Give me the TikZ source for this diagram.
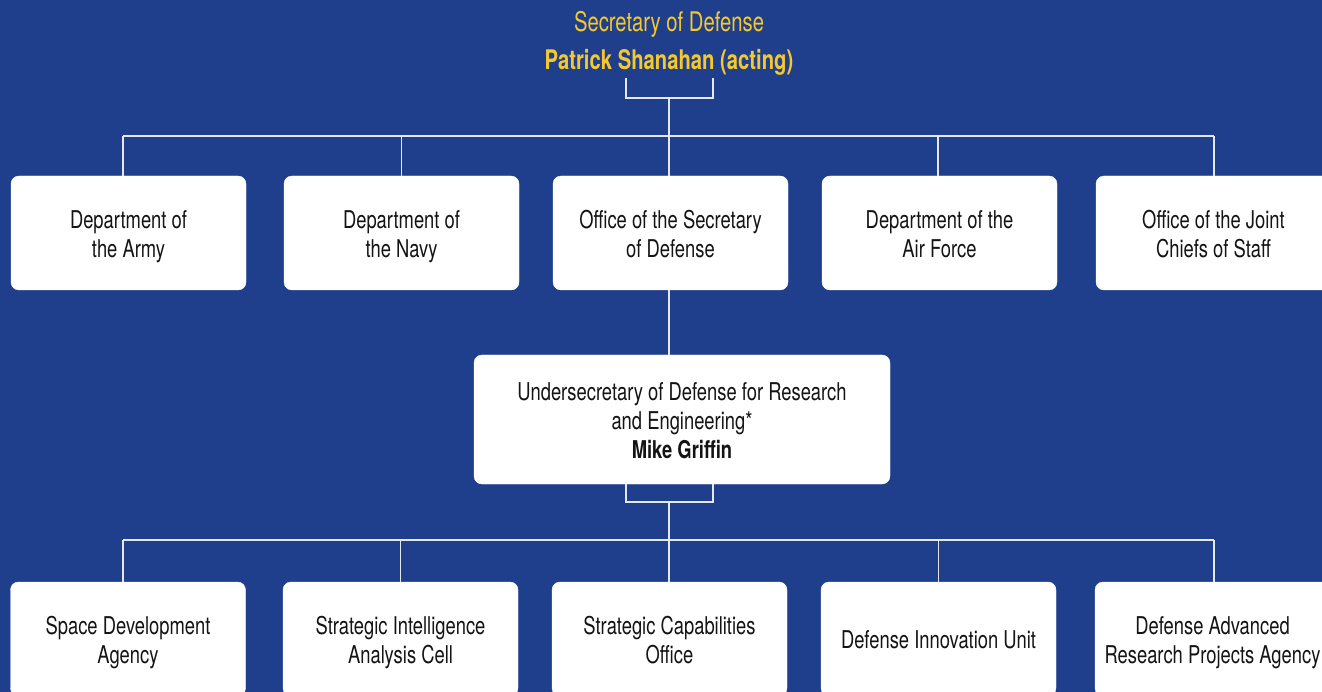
\documentclass[tikz,border=0pt]{standalone}
\usepackage{fontspec}
\setmainfont[FakeStretch=0.75]{TeX Gyre Heros}
\definecolor{bgblue}{RGB}{31,63,140}
\definecolor{gold}{RGB}{245,200,46}
\definecolor{linec}{RGB}{228,232,242}
\definecolor{txt}{RGB}{20,20,20}
\newcommand\mytopstrut{\rule{0pt}{28.3pt}}
\newcommand\mybotstrut{\rule[-8.7pt]{0pt}{8.7pt}}
\begin{document}
\begin{tikzpicture}[x=1pt,y=-1pt,
  orgbox/.style={draw=white,fill=white,rounded corners=8pt,minimum width=235pt,minimum height=114pt,
    align=center,text=txt,font=\fontsize{24.5}{29}\selectfont,inner sep=0pt},
  bigbox/.style={orgbox,minimum width=416pt,minimum height=129pt},
  conn/.style={draw=linec,line width=1.5pt},
  title/.style={text=gold,inner sep=0pt,font=\fontsize{27}{32}\selectfont}]
\useasboundingbox (0,0) rectangle (1322,692);
\clip (0,0) rectangle (1322,692);
\fill[bgblue] (0,0) rectangle (1322,692);
% title
\node[title] (sec) at (669,24) {Secretary of Defense};
\node[title,font=\fontsize{27}{32}\selectfont\bfseries] (name) at (669,62) {Patrick Shanahan (acting)};
\coordinate (bl1) at (626,78);
\coordinate (br1) at (713,78);
\coordinate (bm1) at (669,98);
\coordinate (bus1) at (669,136);
% top row
\node[orgbox] (army) at (128.5,233) {\mytopstrut Department of\\the Army\mybotstrut};
\node[orgbox] (navy) at (401.5,233) {\mytopstrut Department of\\the Navy\mybotstrut};
\node[orgbox] (osd) at (670.5,233) {\mytopstrut Office of the Secretary\\of Defense\mybotstrut};
\node[orgbox] (af) at (939.5,233) {\mytopstrut Department of the\\Air Force\mybotstrut};
\node[orgbox] (jcs) at (1213.5,233) {\mytopstrut Office of the Joint\\Chiefs of Staff\mybotstrut};
% middle
\node[bigbox] (usd) at (682,419.5) {\mytopstrut Undersecretary of Defense for Research\\and Engineering*\\\textbf{Mike Griffin}\mybotstrut};
\coordinate (bl2) at (626,484);
\coordinate (br2) at (713,484);
\coordinate (bm2) at (669,502);
\coordinate (bus2) at (669,540);
% bottom row
\node[orgbox] (sda) at (128,639) {\mytopstrut Space Development\\Agency\mybotstrut};
\node[orgbox] (siac) at (400.5,639) {\mytopstrut Strategic Intelligence\\Analysis Cell\mybotstrut};
\node[orgbox] (sco) at (669.5,639) {\mytopstrut Strategic Capabilities\\Office\mybotstrut};
\node[orgbox] (diu) at (938.5,639) {\mytopstrut Defense Innovation Unit\mybotstrut};
\node[orgbox] (darpa) at (1212.5,639) {\mytopstrut Defense Advanced\\Research Projects Agency\mybotstrut};
% connectors top
\draw[conn] (bl1) |- (bm1) -| (br1);
\draw[conn] (bm1) -- (bus1);
\draw[conn] ([xshift=-5.5pt]army.north |- bus1) -- ([xshift=0.5pt]jcs.north |- bus1);
\draw[conn] ([xshift=-5.5pt]army.north) -- ([xshift=-5.5pt]army.north |- bus1);
\draw[conn] (navy.north) -- (navy.north |- bus1);
\draw[conn] ([xshift=-1.5pt]osd.north) -- ([xshift=-1.5pt]osd.north |- bus1);
\draw[conn] ([xshift=-1.5pt]af.north) -- ([xshift=-1.5pt]af.north |- bus1);
\draw[conn] ([xshift=0.5pt]jcs.north) -- ([xshift=0.5pt]jcs.north |- bus1);
\draw[conn] ([xshift=-1.5pt]osd.south) -- ([xshift=-1.5pt]osd.south |- usd.north);
% connectors bottom
\draw[conn] (bl2) |- (bm2) -| (br2);
\draw[conn] (bm2) -- (bus2);
\draw[conn] ([xshift=-5pt]sda.north |- bus2) -- ([xshift=1.5pt]darpa.north |- bus2);
\draw[conn] ([xshift=-5pt]sda.north) -- ([xshift=-5pt]sda.north |- bus2);
\draw[conn] (siac.north) -- (siac.north |- bus2);
\draw[conn] ([xshift=-0.5pt]sco.north) -- ([xshift=-0.5pt]sco.north |- bus2);
\draw[conn] (diu.north) -- (diu.north |- bus2);
\draw[conn] ([xshift=1.5pt]darpa.north) -- ([xshift=1.5pt]darpa.north |- bus2);
\end{tikzpicture}
\end{document}
